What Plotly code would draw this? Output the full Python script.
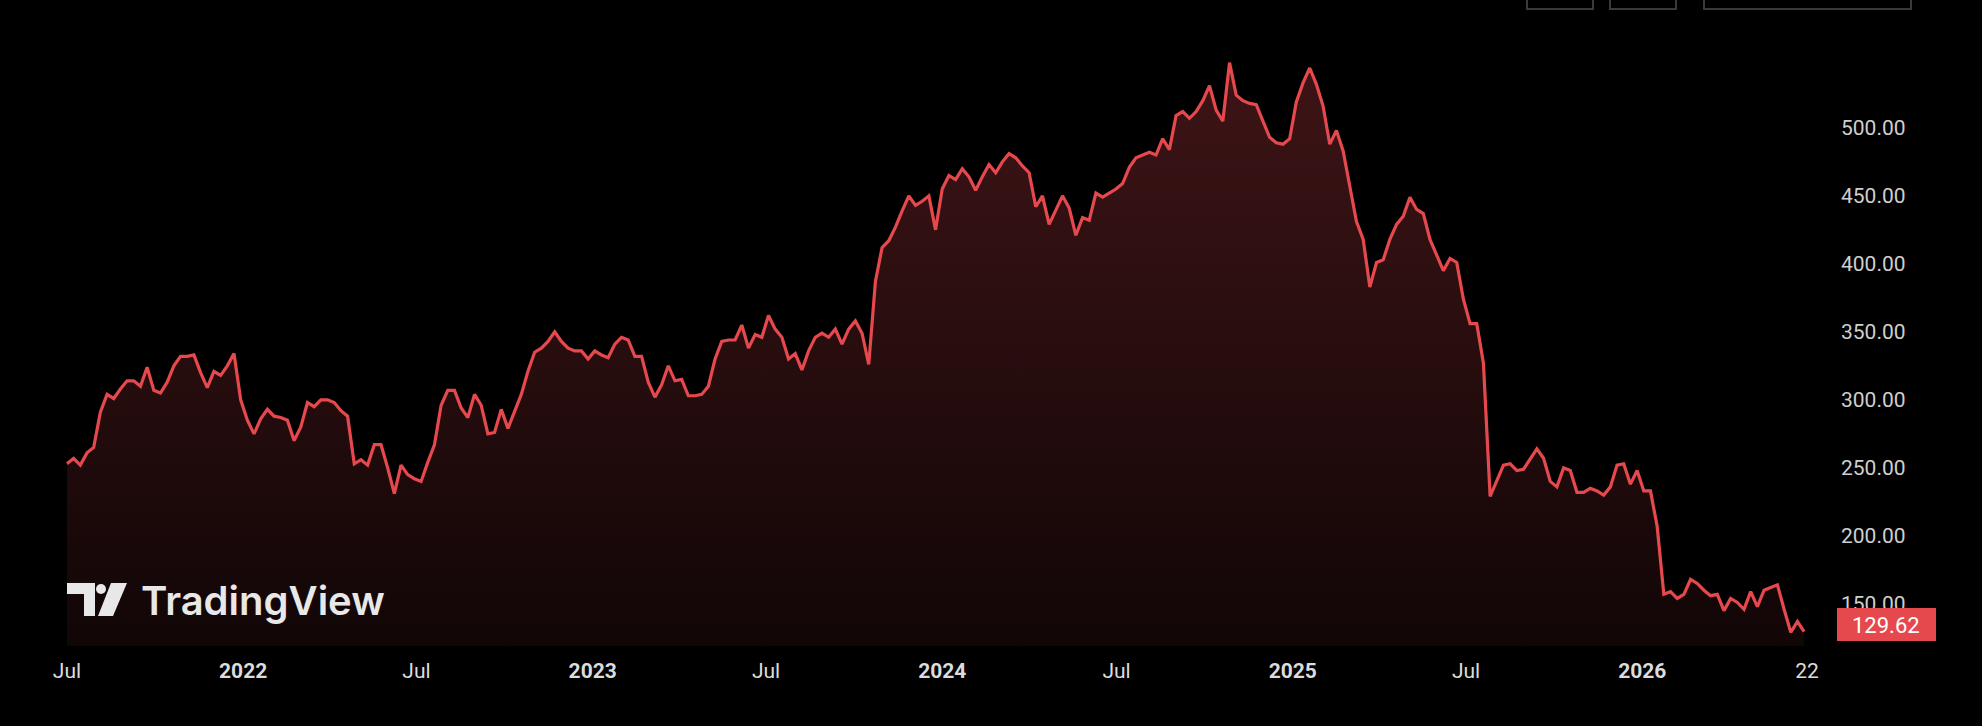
import plotly.graph_objects as go
import pandas as pd

W, H = 1982, 726
L, R, T, B = 66, 152, 0, 80

prices = [253,257,252,261,265,291,304,301,308,314,314,310,324,307,305,313,325,332,332,333,320,309,321,318,325,334,
300,285,275,286,293,288,287,285,270,280,298,295,300,300,298,292,288,253,256,252,267,267,250,231,252,245,242,240,254,267,
296,307,307,294,287,304,296,275,276,293,279,291,304,321,335,338,343,350,343,338,336,336,330,336,333,331,341,346,344,332,332,
313,302,311,325,314,315,303,303,304,310,330,343,344,344,355,338,348,346,362,352,346,330,334,322,336,346,349,346,352,341,352,358,349,326,
387,412,417,427,439,450,443,446,450,425,455,465,462,470,464,454,464,473,467,475,481,478,472,467,442,450,429,440,450,441,421,434,432,
452,449,452,455,459,471,478,480,482,480,492,484,509,512,507,512,520,531,513,505,548,524,520,518,517,505,493,489,488,492,519,533,544,
532,516,488,498,483,457,431,418,383,401,403,418,429,435,449,440,437,418,407,395,404,401,374,356,356,327,229,240,252,253,248,249,257,
264,257,240,236,250,248,232,232,235,233,230,236,252,253,238,248,233,233,207,157,159,154,157,168,165,160,156,157,145,154,151,146,159,
148,160,162,164,146,129,137,129.62]
dates = pd.date_range("2021-07-01", "2026-06-19", periods=len(prices))

x_tickvals = ["2021-07-01","2022-01-01","2022-07-01","2023-01-01","2023-07-01","2024-01-01",
              "2024-07-01","2025-01-01","2025-07-01","2026-01-01","2026-06-22"]
x_ticktext = ["Jul","<b>2022</b>","Jul","<b>2023</b>","Jul","<b>2024</b>","Jul","<b>2025</b>","Jul","<b>2026</b>","22"]
y_tickvals = [150,200,250,300,350,400,450,500]
y_ticktext = ["150.00","200.00","250.00","300.00","350.00","400.00","450.00","500.00"]
last_label = "129.62"
brand = "TradingView"

fig = go.Figure()
fig.add_trace(go.Scatter(
    x=dates, y=prices, mode="lines",
    line=dict(color="#e5484d", width=3.2),
    fill="tozeroy",
    fillgradient=dict(type="vertical",
                      colorscale=[[0, "rgba(5,2,2,1)"], [1, "rgba(62,20,22,1)"]]),
    hoverinfo="skip", showlegend=False))

pw, ph = W - L - R, H - T - B
def px(x): return (x - L) / pw
def py(y): return (H - B - y) / ph

shapes = []
shapes.append(dict(type="path", xref="paper", yref="paper", line_width=0, fillcolor="#e8e8e8",
    path=f"M{px(67)},{py(583)} L{px(95)},{py(583)} L{px(95)},{py(616)} L{px(84)},{py(616)} L{px(84)},{py(594)} L{px(67)},{py(594)} Z"))
shapes.append(dict(type="circle", xref="paper", yref="paper", line_width=0, fillcolor="#e8e8e8",
    x0=px(96), x1=px(106), y0=py(594), y1=py(584)))
shapes.append(dict(type="path", xref="paper", yref="paper", line_width=0, fillcolor="#e8e8e8",
    path=f"M{px(111)},{py(583)} L{px(127)},{py(583)} L{px(113)},{py(616)} L{px(98)},{py(616)} Z"))
for x0, x1 in [(1527, 1593), (1610, 1676), (1704, 1911)]:
    shapes.append(dict(type="rect", xref="paper", yref="paper", x0=px(x0), x1=px(x1),
                       y0=py(9), y1=py(-30), line=dict(color="#3a3a3a", width=2), fillcolor="rgba(0,0,0,0)"))
shapes.append(dict(type="rect", xref="paper", yref="paper", x0=px(1837), x1=px(1936),
                   y0=py(641), y1=py(608), line_width=0, fillcolor="#e5484d"))

fig.update_layout(
    width=W, height=H, margin=dict(l=L, r=R, t=T, b=B),
    paper_bgcolor="black", plot_bgcolor="black",
    shapes=shapes,
    annotations=[
        dict(text=brand, xref="paper", yref="paper", x=px(139), y=py(600), xanchor="left", yanchor="middle",
             showarrow=False, font=dict(family="Inter", size=40, color="#e8e8e8", weight=600)),
        dict(text=last_label, xref="paper", yref="paper", x=px(1886), y=py(625), xanchor="center", yanchor="middle",
             showarrow=False, font=dict(family="Roboto", size=22, color="white")),
    ],
    xaxis=dict(range=["2021-06-30", "2026-07-16"], tickvals=x_tickvals, ticktext=x_ticktext,
               showgrid=False, zeroline=False, showline=False, ticks="",
               tickfont=dict(family="Roboto", size=21, color="#dcdcdc")),
    yaxis=dict(side="right", range=[119, 594], tickvals=y_tickvals, ticktext=y_ticktext,
               showgrid=False, zeroline=False, showline=False, ticks="",
               tickfont=dict(family="Roboto", size=21, color="#cfcfcf")),
)
fig.update_xaxes(ticklabelstandoff=10)
fig.update_yaxes(ticklabelstandoff=10)
fig.write_html("out.html", config={"displayModeBar": False},
               post_script="document.body.style.margin='0';document.body.style.background='black';")
